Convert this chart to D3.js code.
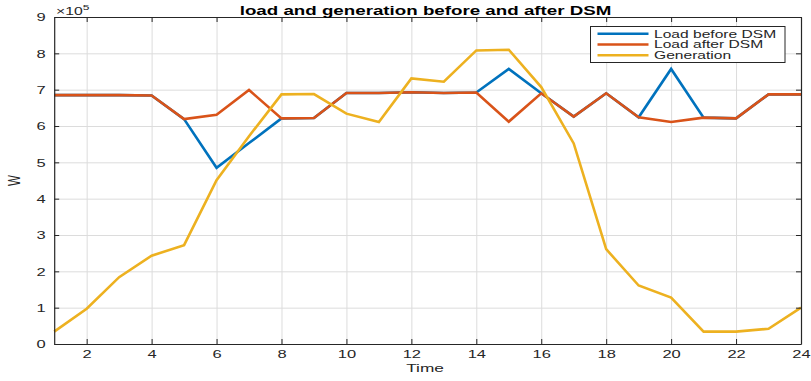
<!DOCTYPE html>
<html>
<head>
<meta charset="utf-8">
<script src="https://cdn.jsdelivr.net/npm/d3@7"></script>
<style>
  html, body { margin: 0; padding: 0; background: #fff; }
  svg { display: block; }
  text { font-family: "Liberation Sans", Arial, Helvetica, sans-serif; }
</style>
</head>
<body>
<svg id="chart" width="811" height="381"></svg>
<script>
// Hourly load profile and generation (W)
const hours = d3.range(1, 25);
const loadBefore = [6.85e5, 6.85e5, 6.85e5, 6.84e5, 6.19e5, 4.85e5, 5.53e5, 6.21e5, 6.22e5, 6.91e5, 6.91e5, 6.93e5,
                    6.91e5, 6.92e5, 7.57e5, 6.90e5, 6.26e5, 6.90e5, 6.24e5, 7.57e5, 6.23e5, 6.21e5, 6.87e5, 6.87e5];
const loadAfter  = [6.85e5, 6.85e5, 6.85e5, 6.84e5, 6.19e5, 6.31e5, 6.99e5, 6.21e5, 6.22e5, 6.91e5, 6.91e5, 6.93e5,
                    6.91e5, 6.92e5, 6.12e5, 6.90e5, 6.26e5, 6.90e5, 6.24e5, 6.11e5, 6.23e5, 6.21e5, 6.87e5, 6.87e5];
const generation = [0.34e5, 0.97e5, 1.84e5, 2.43e5, 2.72e5, 4.51e5, 5.72e5, 6.87e5, 6.88e5, 6.34e5, 6.11e5, 7.31e5,
                    7.22e5, 8.08e5, 8.10e5, 7.07e5, 5.52e5, 2.61e5, 1.61e5, 1.28e5, 0.34e5, 0.34e5, 0.42e5, 1.00e5];
const xTicks = d3.range(2, 25, 2);
const yTicks = d3.range(0, 10).map(d => d * 1e5);
const seriesNames = ["Load before DSM", "Load after DSM", "Generation"];
const seriesColors = ["#0072BD", "#D95319", "#EDB120"];

const SX = 1.5;             // horizontal text stretch
const ink = "#262626";
const svg = d3.select("#chart");

const plotL = 54.2, plotR = 801, plotT = 17, plotB = 344;
const x = d3.scaleLinear().domain([1, 24]).range([plotL, plotR]);
const y = d3.scaleLinear().domain([0, 9e5]).range([plotB, plotT]);

// grid
svg.append("g")
  .attr("transform", `translate(0,${plotB})`)
  .call(d3.axisBottom(x).tickValues(xTicks).tickSize(-(plotB - plotT)).tickFormat(""))
  .call(g => g.select(".domain").remove())
  .call(g => g.selectAll("line").attr("stroke", "#dcdcdc").attr("stroke-width", 1));
svg.append("g")
  .attr("transform", `translate(${plotL},0)`)
  .call(d3.axisLeft(y).tickValues(yTicks).tickSize(-(plotR - plotL)).tickFormat(""))
  .call(g => g.select(".domain").remove())
  .call(g => g.selectAll("line").attr("stroke", "#dcdcdc").attr("stroke-width", 1));

// series lines
const series = [loadBefore, loadAfter, generation];
const line = d3.line().x((d, i) => x(hours[i])).y(d => y(d));
series.forEach((vals, k) => {
  svg.append("path")
    .datum(vals)
    .attr("d", line)
    .attr("fill", "none")
    .attr("stroke", seriesColors[k])
    .attr("stroke-width", 2.6)
    .attr("stroke-linejoin", "miter");
});

// axes with inward ticks
const styleAxis = g => {
  g.select(".domain").attr("stroke", ink).attr("stroke-width", 1.2);
  g.selectAll(".tick line").attr("stroke", ink);
  g.selectAll("text").attr("fill", ink).attr("font-size", 11);
};
svg.append("g")
  .attr("transform", `translate(0,${plotB})`)
  .call(d3.axisBottom(x).tickValues(xTicks).tickSizeInner(-5).tickSizeOuter(0).tickPadding(14))
  .call(styleAxis)
  .call(g => g.selectAll("text").attr("dy", 0).attr("transform", `scale(${SX},1)`));
svg.append("g")
  .attr("transform", `translate(${plotL},0)`)
  .call(d3.axisLeft(y).tickValues(yTicks).tickSizeInner(-5).tickSizeOuter(0).tickFormat(d => d / 1e5))
  .call(styleAxis)
  .call(g => g.selectAll("text").attr("x", 0).attr("dy", "0.36em")
    .attr("transform", `translate(-8.5,0) scale(${SX},1)`));
svg.append("g")
  .attr("transform", `translate(0,${plotT})`)
  .call(d3.axisTop(x).tickValues(xTicks).tickSizeInner(-5).tickSizeOuter(0).tickFormat(""))
  .call(styleAxis);
svg.append("g")
  .attr("transform", `translate(${plotR},0)`)
  .call(d3.axisRight(y).tickValues(yTicks).tickSizeInner(-5).tickSizeOuter(0).tickFormat(""))
  .call(styleAxis);

// stretched text helper
function label(px, py, str, opts = {}) {
  return svg.append("text")
    .attr("transform", `translate(${px},${py}) scale(${SX},1)${opts.rotate ? " rotate(" + opts.rotate + ")" : ""}`)
    .attr("text-anchor", opts.anchor || "start")
    .attr("font-size", opts.size || 11)
    .attr("font-weight", opts.weight || "normal")
    .attr("fill", opts.fill || ink)
    .text(str);
}

// exponent marker
const ex = svg.append("text")
  .attr("transform", `translate(56,15) scale(${SX},1)`)
  .attr("font-size", 10.5).attr("fill", ink);
ex.append("tspan").text("\u00d710");
ex.append("tspan").attr("dy", -5).attr("font-size", 8).text("5");

// title and axis labels
label(425.5, 15, "load and generation before and after DSM", { anchor: "middle", size: 12.5, weight: "bold", fill: "#000" });
label(425, 372, "Time", { anchor: "middle", size: 11.5 });
label(20, 180.5, "W", { anchor: "middle", size: 11.5, rotate: -90 });

// legend
const lg = svg.append("g");
lg.append("rect")
  .attr("x", 590.5).attr("y", 26.5).attr("width", 194.5).attr("height", 36)
  .attr("fill", "#fff").attr("stroke", ink).attr("stroke-width", 1);
seriesNames.forEach((name, k) => {
  const ly = 33.7 + k * 10.8;
  lg.append("line")
    .attr("x1", 597.5).attr("x2", 648.5).attr("y1", ly).attr("y2", ly)
    .attr("stroke", seriesColors[k]).attr("stroke-width", 2.4);
  label(654, ly + 3.8, name, { size: 10.4 });
});
</script>
</body>
</html>
